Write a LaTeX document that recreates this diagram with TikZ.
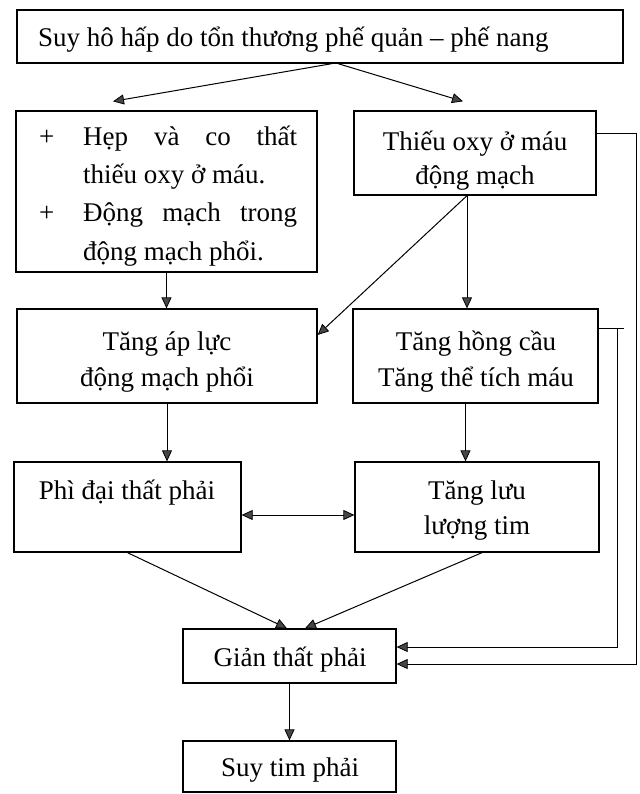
\documentclass[tikz,border=0pt]{standalone}
\usepackage{fontspec}
\setmainfont{Liberation Serif}
\usetikzlibrary{arrows.meta,fit,calc}
\newcommand\txtsize{\fontsize{27}{32}\selectfont}
\tikzset{
  box/.style={draw, line width=1.3pt, inner sep=0pt},
  txt/.style={inner sep=0pt, font=\txtsize},
  tipx/.tip={Triangle[length=11pt,width=10pt,fill=gray!55!black,line width=0.8pt]},
  arr/.style={-tipx, line width=1pt},
  darr/.style={tipx-tipx, line width=1pt},
  conn/.style={line width=1pt}
}
\begin{document}
\begin{tikzpicture}[x=1pt,y=-1pt]
\useasboundingbox (0,0) rectangle (639,794);
% boxes
\node[box, fit={(17,10) (623,63)}] (top) {};
\node[box, fit={(16,111) (317,272)}] (lbox) {};
\node[box, fit={(354,111) (596,195)}] (rbox) {};
\node[box, fit={(17,309) (317,403)}] (pap) {};
\node[box, fit={(353,309) (598,403)}] (hc) {};
\node[box, fit={(14,462) (241,552)}] (pd) {};
\node[box, fit={(355,462) (599,552)}] (ll) {};
\node[box, fit={(183,629) (396,683)}] (gian) {};
\node[box, fit={(183,741) (396,792)}] (suy) {};
% texts
\node[txt, anchor=base west] (t0) at (38,47) {Suy hô hấp do tổn thương phế quản – phế nang};
\node[txt, anchor=base west] (p1) at (39,146) {+};
\node[txt, anchor=base west] (l1) at (83,146) {\makebox[214pt][s]{Hẹp và co thất}};
\node[txt, anchor=base west] (l2) at (83,184) {thiếu oxy ở máu.};
\node[txt, anchor=base west] (p2) at (39,222) {+};
\node[txt, anchor=base west] (l3) at (83,222) {\makebox[214pt][s]{Động mạch trong}};
\node[txt, anchor=base west] (l4) at (83,260) {động mạch phổi.};
\node[txt, anchor=base] (r1) at (475,151) {Thiếu oxy ở máu};
\node[txt, anchor=base] (r2) at (475,185) {động mạch};
\node[txt, anchor=base] (a1) at (167,350) {Tăng áp lực};
\node[txt, anchor=base] (a2) at (167,386) {động mạch phổi};
\node[txt, anchor=base] (h1) at (476,350) {Tăng hồng cầu};
\node[txt, anchor=base] (h2) at (476,386) {Tăng thể tích máu};
\node[txt, anchor=base] (d1) at (127,499) {Phì đại thất phải};
\node[txt, anchor=base] (u1) at (477,499) {Tăng lưu};
\node[txt, anchor=base] (u2) at (477,534) {lượng tim};
\node[txt, anchor=base] (g1) at (290,666) {Giản thất phải};
\node[txt, anchor=base] (s1) at (290,776) {Suy tim phải};
% connectors
\draw[arr] ([xshift=12pt]top.south) -- ([xshift=-53.5pt,yshift=9pt]lbox.north);
\draw[arr] ([xshift=18pt]top.south) -- ([xshift=-12pt,yshift=9pt]rbox.north);
\draw[arr] (lbox.south) -- (lbox.south |- pap.north);
\draw[arr] ([xshift=-8pt]rbox.south) -- ([xshift=-8pt]rbox.south |- hc.north);
\draw[arr] ([xshift=-8pt]rbox.south) -- ([yshift=21pt]pap.east);
\draw[arr] (pap.south) -- (pap.south |- pd.north);
\draw[arr] ([xshift=-10pt]hc.south) -- ([xshift=-10pt]hc.south |- ll.north);
\draw[darr] ([yshift=-8pt]pd.east) -- ([yshift=-8pt]pd.east -| ll.west);
\draw[arr] (pd.south) -- ([xshift=-2.5pt]gian.north);
\draw[arr] ([xshift=5pt]ll.south) -- ([xshift=15.5pt]gian.north);
\draw[arr] (gian.south) -- (gian.south |- suy.north);
\draw[arr] ([yshift=19pt]rbox.east) -- ++(40,0) |- ([yshift=-8pt]gian.east);
\draw[conn] ([yshift=28pt]hc.east) -- ++(25,0);
\draw[arr] ([yshift=28pt,xshift=19pt]hc.east) |- ([yshift=9pt]gian.east);
\end{tikzpicture}
\end{document}
